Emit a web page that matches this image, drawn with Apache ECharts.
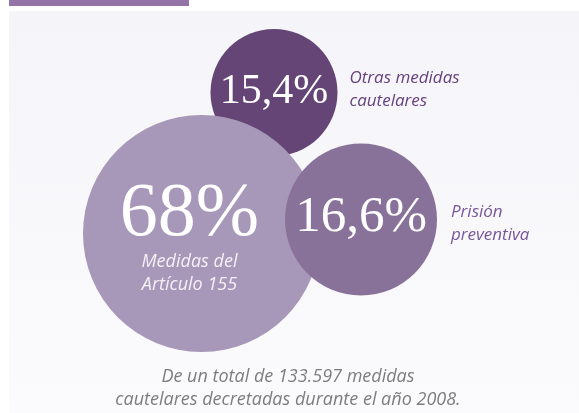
<!DOCTYPE html>
<html>
<head>
<meta charset="utf-8">
<script src="https://cdn.jsdelivr.net/npm/echarts@6/dist/echarts.min.js"></script>
<style>
  html, body { margin: 0; padding: 0; background: #fff; }
  #chart { width: 579px; height: 413px; }
</style>
</head>
<body>
<div id="chart"></div>
<script>
// share of precautionary measures, 2008 (draw order: back to front)
const names    = ['Otras medidas\ncautelares', 'Medidas del\nArtículo 155', 'Prisión\npreventiva']
const shares   = [15.4, 68, 16.6]
const bubbleX  = [274, 201.5, 361]
const bubbleY  = [92.5, 233.5, 219.5]
const footnote = 'De un total de 133.597 medidas\ncautelares decretadas durante el año 2008.'

const COLORS   = ['#644576', '#a797b8', '#89729a']
const DIAMETER = [127, 237, 152]
const PCT_SIZE = [42, 76, 51]
const PCT_OFF  = [[0, -1], [-12, -18], [0, -2]]
const SERIF    = "'Liberation Serif', 'Times New Roman', serif"
const SANS_IT  = "'Open Sans', sans-serif"

const fmtPct = v => String(v).replace('.', ',') + '%'

const chart = echarts.init(document.getElementById('chart'), null, { renderer: 'canvas' })

// one series per bubble so the stacking order is explicit
const bubbleSeries = shares.map((v, i) => ({
  type: 'scatter',
  silent: true,
  z: 2 + i,
  data: [{
    value: [bubbleX[i], bubbleY[i], v],
    symbolSize: DIAMETER[i],
  }],
  itemStyle: { color: COLORS[i], opacity: 1 },
  label: {
    show: true,
    position: 'inside',
    color: '#ffffff',
    fontFamily: SERIF,
    fontSize: PCT_SIZE[i],
    offset: PCT_OFF[i],
    formatter: p => fmtPct(p.value[2]),
  },
}))

// captions: outside on the right for the small bubbles, inside for the big one
const captionData = shares.map((v, i) => {
  const inside = i === 1
  return {
    name: names[i],
    value: [bubbleX[i], bubbleY[i], v],
    symbolSize: DIAMETER[i],
    label: inside
      ? { position: 'inside', offset: [-12, 40], color: '#f4f0f7', align: 'center', fontSize: 18 }
      : { position: 'right', offset: [i === 0 ? 7 : 9, i === 0 ? -3 : 4], color: i === 0 ? '#66427f' : '#77579a', align: 'left' },
  }
})

chart.setOption({
  animation: false,
  grid: { left: 0, right: 0, top: 0, bottom: 0 },
  xAxis: { type: 'value', min: 0, max: 579, show: false },
  yAxis: { type: 'value', min: 0, max: 413, inverse: true, show: false },
  graphic: [
    {
      type: 'rect', z: -10, silent: true,
      shape: { x: 9, y: 11, width: 570, height: 402 },
      style: {
        fill: new echarts.graphic.LinearGradient(0, 0, 0, 1, [
          { offset: 0, color: '#f5f4f8' },
          { offset: 1, color: '#fbfafc' },
        ]),
      },
    },
    {
      type: 'rect', z: -10, silent: true,
      shape: { x: 9, y: 0, width: 180, height: 6 },
      style: { fill: '#9473a7' },
    },
    {
      type: 'text', z: 10, silent: true,
      x: 288, y: 388,
      style: {
        text: footnote,
        fill: '#7d7d7f',
        font: "italic 18px 'Open Sans', sans-serif",
        lineHeight: 23,
        align: 'center',
        verticalAlign: 'middle',
      },
    },
  ],
  series: [
    ...bubbleSeries,
    {
      type: 'scatter',
      silent: true,
      z: 10,
      data: captionData,
      itemStyle: { color: 'rgba(0,0,0,0)', opacity: 1 },
      label: {
        show: true,
        fontFamily: SANS_IT,
        fontStyle: 'italic',
        fontSize: 17,
        lineHeight: 23,
        formatter: p => p.name,
      },
    },
  ],
})

window.addEventListener('resize', () => chart.resize())
</script>
</body>
</html>
